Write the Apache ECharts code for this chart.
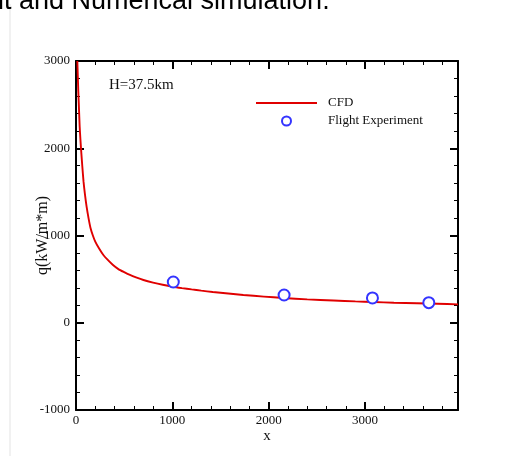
<!DOCTYPE html>
<html>
<head>
<meta charset="utf-8">
<script src="https://cdn.jsdelivr.net/npm/echarts@6/dist/echarts.min.js"></script>
<style>html,body{margin:0;padding:0;background:#fff;}#c{width:506px;height:456px;}</style>
</head>
<body>
<div id="c"></div>
<script>
// CFD curve (x, q)
const cfdX = [14, 18, 24, 30, 38, 46, 55, 65, 78, 92, 110, 130, 150, 175, 200, 240, 284, 330, 381, 440, 500, 560, 623, 700, 800, 900, 1004, 1100, 1200, 1300, 1420, 1580, 1737, 1950, 2153, 2400, 2672, 2900, 3087, 3300, 3538, 3750, 3965];
const cfdQ = [3000, 2850, 2650, 2480, 2250, 2100, 1950, 1800, 1620, 1480, 1330, 1200, 1090, 1000, 930, 850, 776, 720, 665, 615, 580, 548, 520, 490, 460, 435, 413, 397, 382, 368, 352, 335, 318, 300, 284, 268, 255, 245, 238, 230, 223, 217, 211];
// Flight experiment points
const expX = [1010, 2160, 3077, 3662];
const expQ = [467, 318, 284, 230];
// axes
const xMin = 0, xMax = 3965, xStep = 1000;
const yMin = -1000, yMax = 3000, yStep = 1000;
const serif = '"Liberation Serif", "Times New Roman", serif';

const chart = echarts.init(document.getElementById('c'));
function axisCommon() {
  return {
    axisLine: {show: true, onZero: false, lineStyle: {color: '#000', width: 2}},
    axisTick: {show: true, inside: true, length: 8, lineStyle: {color: '#000', width: 2}},
    minorTick: {show: true, splitNumber: 5, length: 4, lineStyle: {color: '#000', width: 1}},
    splitLine: {show: false},
    minorSplitLine: {show: false}
  };
}
const plain = v => String(v);
chart.setOption({
  animation: false,
  backgroundColor: '#fff',
  grid: {left: 76, top: 61, right: 48, bottom: 46},
  title: {
    text: 'H=37.5km', left: 109, top: 78, padding: 0,
    textStyle: {fontFamily: serif, fontSize: 15, fontWeight: 'normal', color: '#111'}
  },
  graphic: [
    {type: 'line', shape: {x1: 10, y1: 4, x2: 10, y2: 456}, style: {stroke: '#e3e3e3', lineWidth: 1}},
    {type: 'text', left: -2, top: -12, style: {text: 'it and Numerical simulation.', font: '27px "Liberation Sans", Arial, sans-serif', fill: '#000'}}
  ],
  legend: {
    orient: 'vertical', left: 256, top: 94, padding: 0, itemWidth: 61, itemHeight: 9, itemGap: 0,
    textStyle: {fontFamily: serif, fontSize: 13, lineHeight: 18, color: '#111', padding: [0, 0, 0, 6]},
    data: [
      {name: 'CFD', icon: 'path://M0,0 L61,0 L61,1.8 L0,1.8 Z'},
      {name: 'Flight Experiment'}
    ]
  },
  xAxis: [
    Object.assign({type: 'value', min: xMin, max: xMax, interval: xStep, position: 'bottom',
      name: 'x', nameLocation: 'middle', nameGap: 19, nameMoveOverlap: false,
      nameTextStyle: {fontFamily: serif, fontSize: 15, color: '#111'},
      axisLabel: {fontFamily: serif, fontSize: 13, color: '#111', margin: 4, showMaxLabel: false, formatter: plain}}, axisCommon()),
    Object.assign({type: 'value', min: xMin, max: xMax, interval: xStep, position: 'top',
      axisLabel: {show: false}}, axisCommon())
  ],
  yAxis: [
    Object.assign({type: 'value', min: yMin, max: yMax, interval: yStep, position: 'left',
      name: 'q(kW/m*m)', nameLocation: 'middle', nameGap: 25, nameRotate: 90, nameMoveOverlap: false,
      nameTextStyle: {fontFamily: serif, fontSize: 16, color: '#111'},
      axisLabel: {fontFamily: serif, fontSize: 13, color: '#111', margin: 6, formatter: plain}}, axisCommon()),
    Object.assign({type: 'value', min: yMin, max: yMax, interval: yStep, position: 'right',
      axisLabel: {show: false}}, axisCommon())
  ],
  series: [
    {
      name: 'CFD', type: 'line', xAxisIndex: 0, yAxisIndex: 0,
      data: cfdX.map((x, i) => [x, cfdQ[i]]),
      showSymbol: false, symbol: 'none', smooth: 0.2, clip: true,
      lineStyle: {color: '#e00000', width: 1.9}, itemStyle: {color: '#e00000'}
    },
    {
      name: 'Flight Experiment', type: 'scatter', xAxisIndex: 0, yAxisIndex: 0,
      data: expX.map((x, i) => [x, expQ[i]]),
      symbol: 'emptyCircle', symbolSize: 11, z: 5,
      itemStyle: {color: '#3434ff', borderColor: '#3434ff', borderWidth: 2, opacity: 1}
    }
  ]
});
</script>
</body>
</html>
